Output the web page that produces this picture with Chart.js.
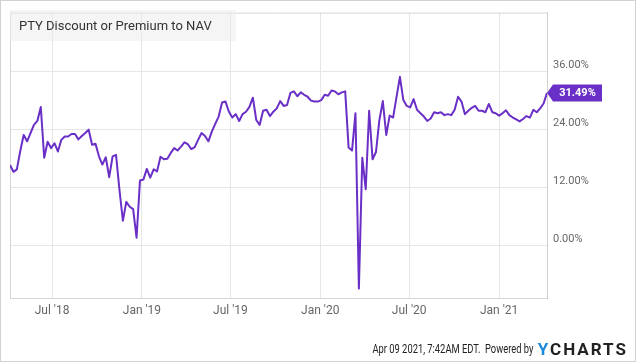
<!DOCTYPE html>
<html>
<head>
<meta charset="utf-8">
<script src="https://cdn.jsdelivr.net/npm/chart.js@4.4.1/dist/chart.umd.min.js"></script>
<style>
  html, body { margin: 0; padding: 0; background: #fff; }
  #wrap { position: relative; width: 640px; height: 362px; overflow: hidden; font-family: Roboto, sans-serif; }
  #chart { position: absolute; left: 0; top: 0; }
  #frame { position: absolute; left: 0; top: 0; width: 634px; height: 360px; border: 1px solid #d2d2d2; pointer-events: none; }
  #title { position: absolute; left: 10px; top: 10px; width: 226px; height: 31px; background: rgba(236,236,236,0.5);
           font-size: 13px; color: #333; line-height: 31px; padding-left: 9px; box-sizing: border-box; }
  #footer { position: absolute; right: 12px; top: 339px; height: 20px; display: flex; align-items: center; }
  #stamp { font-size: 12px; color: #222; transform: scaleX(0.78); transform-origin: right center; white-space: nowrap; margin-right: 4px; }
  #logo { font-size: 17px; font-weight: bold; letter-spacing: 2px; color: #222; white-space: nowrap; }
  #logo span { color: #1a8ad9; }
</style>
</head>
<body>
<div id="wrap">
  <canvas id="chart" width="640" height="362"></canvas>
  <div id="title">PTY Discount or Premium to NAV</div>
  <div id="footer"><div id="stamp">Apr 09 2021, 7:42AM EDT.&nbsp; Powered by</div><div id="logo"><span>Y</span>CHARTS</div></div>
  <div id="frame"></div>
</div>
<script>
// weekly closes, first week ending Fri Apr 6 2018, last Fri Apr 9 2021
const firstDate = "2018-04-06";
const discountPremium = [
  16.6, 15.2, 15.7, 19.5, 22.8, 21.5, 23.2, 24.9, 25.7, 28.6,
  18.1, 21.4, 20.1, 21.1, 19.4, 21.8, 22.5, 22.5, 23.0, 23.0,
  21.9, 22.6, 23.2, 23.9, 20.8, 21.0, 18.4, 16.7, 18.2, 14.1,
  18.4, 18.7, 11.5, 5.1, 9.0, 8.0, 7.5, 1.6, 13.4, 13.6,
  15.8, 14.0, 15.7, 15.3, 18.3, 17.8, 17.9, 19.1, 20.1, 19.6,
  20.4, 21.3, 20.9, 19.9, 20.3, 21.8, 23.2, 22.6, 21.5, 23.5,
  25.1, 26.6, 29.5, 29.7, 27.6, 26.4, 27.1, 25.7, 27.1, 27.6,
  28.6, 30.5, 25.9, 24.9, 27.8, 28.0, 26.7, 27.6, 28.3, 29.8,
  28.8, 29.0, 31.5, 31.8, 30.8, 31.6, 31.1, 30.7, 29.9, 29.7,
  29.7, 30.0, 31.1, 30.9, 32.0, 31.8, 31.2, 31.6, 31.8, 20.2,
  19.6, 27.3, -8.9, 18.1, 11.6, 27.8, 17.8, 19.3, 25.9, 29.8,
  22.8, 26.8, 26.4, 30.6, 34.8, 30.0, 28.8, 28.5, 30.2, 28.0,
  27.3, 26.6, 25.7, 26.2, 27.5, 27.3, 27.5, 26.9, 27.1, 26.9,
  28.0, 30.7, 29.7, 27.1, 27.8, 28.4, 28.8, 27.8, 27.8, 27.5,
  29.2, 27.5, 27.3, 26.8, 27.3, 27.9, 26.9, 26.4, 26.0, 25.6,
  26.1, 26.7, 26.4, 28.0, 27.5, 28.3, 29.3, 31.49
];
const xTickDates = ["2018-07-01", "2019-01-01", "2019-07-01", "2020-01-01", "2020-07-01", "2021-01-01"];
const xTickLabels = ["Jul '18", "Jan '19", "Jul '19", "Jan '20", "Jul '20", "Jan '21"];
const yTickValues = [0, 12, 24, 36];

const DAY = 86400000;
const toDay = (s) => Date.parse(s) / DAY;
const day0 = toDay(firstDate);
const points = discountPremium.map((v, i) => ({ x: day0 + 7 * i, y: v }));
const lastPoint = points[points.length - 1];
const lineColor = "#6a2fc6";

const framePlugin = {
  id: "frame",
  beforeDatasetsDraw(chart) {
    const { ctx, chartArea: a } = chart;
    ctx.save();
    ctx.strokeStyle = "#d6d6d6";
    ctx.lineWidth = 1;
    ctx.beginPath();
    ctx.moveTo(a.left + 0.5, a.bottom);
    ctx.lineTo(a.left + 0.5, a.top + 0.5);
    ctx.lineTo(a.right, a.top + 0.5);
    ctx.stroke();
    ctx.restore();
  }
};

const lastTagPlugin = {
  id: "lastTag",
  afterDatasetsDraw(chart) {
    const { ctx, chartArea: a } = chart;
    const y = Math.round(chart.scales.y.getPixelForValue(lastPoint.y));
    const x0 = a.right, x1 = a.right + 6, x2 = a.right + 55;
    ctx.save();
    ctx.fillStyle = lineColor;
    ctx.beginPath();
    ctx.moveTo(x0, y);
    ctx.lineTo(x1, y - 8.5);
    ctx.lineTo(x2, y - 8.5);
    ctx.lineTo(x2, y + 8.5);
    ctx.lineTo(x1, y + 8.5);
    ctx.closePath();
    ctx.fill();
    ctx.fillStyle = "#fff";
    ctx.font = "bold 11px Roboto";
    ctx.textAlign = "center";
    ctx.textBaseline = "middle";
    ctx.fillText(lastPoint.y.toFixed(2) + "%", (x1 + x2) / 2, y + 0.5);
    ctx.restore();
  }
};

new Chart(document.getElementById("chart"), {
  type: "line",
  data: {
    datasets: [
      {
        label: "PTY Discount or Premium to NAV",
        data: points,
        borderColor: lineColor,
        borderWidth: 2,
        borderJoinStyle: "round",
        pointRadius: 0,
        tension: 0,
        fill: false,
      },
    ],
  },
  options: {
    responsive: false,
    animation: false,
    events: [],
    layout: { padding: { left: 10, top: 10, right: 0, bottom: 0 } },
    plugins: {
      legend: { display: false },
      title: { display: false },
      tooltip: { enabled: false },
    },
    scales: {
      x: {
        type: "linear",
        min: day0,
        max: lastPoint.x,
        afterBuildTicks: (scale) => {
          scale.ticks = xTickDates.map((d) => ({ value: toDay(d) }));
        },
        afterFit: (scale) => { scale.height = 64; },
        ticks: {
          autoSkip: false,
          maxRotation: 0,
          padding: 6,
          color: "#666",
          font: { family: "Roboto", size: 12 },
          callback: (v, i) => xTickLabels[i],
        },
        grid: { color: "#e6e6e6", drawTicks: false },
        border: { color: "#d6d6d6" },
      },
      y: {
        position: "right",
        min: -10.84,
        max: 48.06,
        afterBuildTicks: (scale) => {
          scale.ticks = yTickValues.map((v) => ({ value: v }));
        },
        afterFit: (scale) => { scale.width = 93; },
        ticks: {
          padding: 6,
          labelOffset: -6,
          color: "#666",
          font: { family: "Roboto", size: 11 },
          callback: (v) => v.toFixed(2) + "%",
        },
        grid: { color: "#e6e6e6", drawTicks: false },
        border: { color: "#d0d0d0" },
      },
    },
  },
  plugins: [framePlugin, lastTagPlugin],
});
</script>
</body>
</html>
